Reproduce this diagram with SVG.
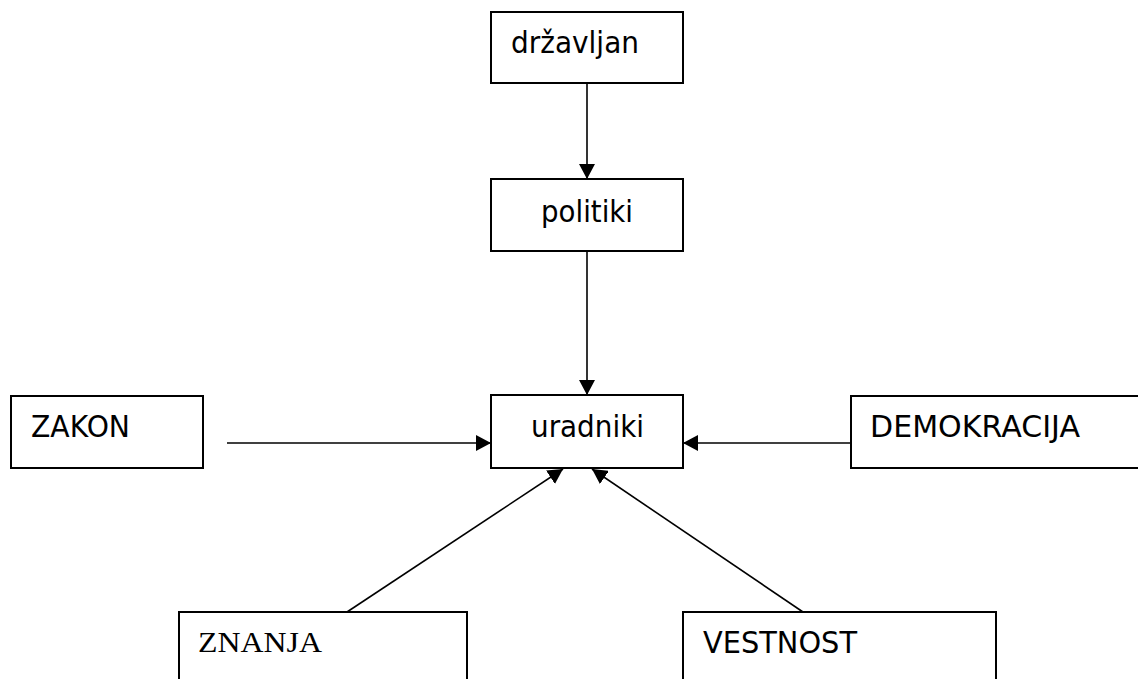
<svg xmlns="http://www.w3.org/2000/svg" width="1138" height="679" viewBox="0 0 1138 679">
<style>
.box{fill:#fff;stroke:#000;stroke-width:2}
.t{font-family:"DejaVu Sans",Verdana,sans-serif;font-size:30px;fill:#000}
.ts{font-family:"Liberation Serif","Times New Roman",serif;font-size:30px;fill:#000}
.c{stroke:#000;stroke-width:1.6;fill:none}
</style>
<defs>
<marker id="ah" markerUnits="userSpaceOnUse" markerWidth="16" markerHeight="16" refX="15" refY="8" orient="auto">
<path d="M0,0 L15,8 L0,16 Z" fill="#000"/>
</marker>
</defs>
<rect width="1138" height="679" fill="#fff"/>
<g id="connectors">
<line class="c" x1="587" y1="83" x2="587" y2="179" marker-end="url(#ah)"/>
<line class="c" x1="587" y1="251" x2="587" y2="395" marker-end="url(#ah)"/>
<line class="c" x1="227" y1="443" x2="491" y2="443" marker-end="url(#ah)"/>
<line class="c" x1="851" y1="443" x2="683" y2="443" marker-end="url(#ah)"/>
<line class="c" x1="347" y1="612" x2="563" y2="469" marker-end="url(#ah)"/>
<line class="c" x1="803" y1="612" x2="592" y2="469" marker-end="url(#ah)"/>
</g>
<g id="drzavljan"><rect class="box" x="491" y="12" width="192" height="71"/><text class="t" x="511" y="53" textLength="128" lengthAdjust="spacingAndGlyphs">državljan</text></g>
<g id="politiki"><rect class="box" x="491" y="179" width="192" height="72"/><text class="t" x="541" y="222" textLength="92" lengthAdjust="spacingAndGlyphs">politiki</text></g>
<g id="uradniki"><rect class="box" x="491" y="395" width="192" height="73"/><text class="t" x="531" y="437" textLength="113" lengthAdjust="spacingAndGlyphs">uradniki</text></g>
<g id="zakon"><rect class="box" x="11" y="396" width="192" height="72"/><text class="t" x="31" y="437" textLength="99" lengthAdjust="spacingAndGlyphs">ZAKON</text></g>
<g id="demokracija"><rect class="box" x="851" y="396" width="300" height="72"/><text class="t" x="870" y="437" textLength="210" lengthAdjust="spacingAndGlyphs">DEMOKRACIJA</text></g>
<g id="znanja"><rect class="box" x="179" y="612" width="288" height="80"/><text class="ts" x="198" y="652" textLength="124" lengthAdjust="spacingAndGlyphs">ZNANJA</text></g>
<g id="vestnost"><rect class="box" x="683" y="612" width="313" height="80"/><text class="t" x="703" y="653" textLength="154" lengthAdjust="spacingAndGlyphs">VESTNOST</text></g>
</svg>
